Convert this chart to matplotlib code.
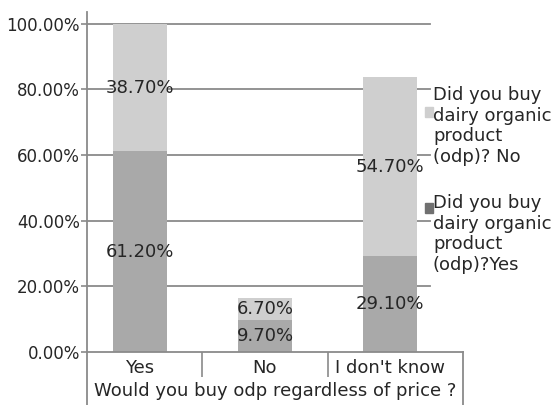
import matplotlib
matplotlib.use("Agg")
import matplotlib.pyplot as plt
from matplotlib.patches import Rectangle
from matplotlib.lines import Line2D

categories = ["Yes", "No", "I don't know"]
series_names = ["Did you buy\ndairy organic\nproduct\n(odp)?Yes",
                "Did you buy\ndairy organic\nproduct\n(odp)? No"]
yes_values = [61.2, 9.7, 29.1]
no_values = [38.7, 6.7, 54.7]
y_ticks = [0, 20, 40, 60, 80, 100]
x_title = "Would you buy odp regardless of price ?"

W, H = 554, 405
dpi = 100
fig = plt.figure(figsize=(W / dpi, H / dpi), dpi=dpi)
fig.patch.set_facecolor("white")

def fx(px):
    return px / W

def fy(py):
    return 1 - py / H

ax_l, ax_r, ax_t, ax_b = 87, 463, 12, 352
ax = fig.add_axes([fx(ax_l), fy(ax_b), fx(ax_r - ax_l), (ax_b - ax_t) / H])

light = "#cfcfcf"
dark = "#a9a9a9"
grid_c = "#8a8a8a"
txt_c = "#262626"
fs = 13

xs = list(range(len(categories)))
width = 0.43
ax.bar(xs, yes_values, width=width, color=dark, zorder=2)
ax.bar(xs, no_values, width=width, bottom=yes_values, color=light, zorder=2)

for x, yv, nv in zip(xs, yes_values, no_values):
    ax.text(x, yv / 2, f"{yv:.2f}%", ha="center", va="center",
            fontsize=fs, color=txt_c, zorder=4)
    ax.text(x, yv + nv / 2, f"{nv:.2f}%", ha="center", va="center",
            fontsize=fs, color=txt_c, zorder=4)

ax.set_xlim(-0.42, 2.58)
ax.set_ylim(0, 103.6)

# gridlines stop before the right end of the x axis
grid_end = (430 - ax_l) / (ax_r - ax_l)
for t in y_ticks[1:]:
    ax.axhline(t, xmin=0, xmax=grid_end, color=grid_c, lw=1.3, zorder=1)

ax.set_yticks(y_ticks)
ax.set_yticklabels([f"{t:.2f}%" for t in y_ticks])
ax.tick_params(axis="y", length=4, width=1.2, color=grid_c, pad=1,
               labelsize=12, labelcolor=txt_c)

ax.set_xticks(xs)
ax.set_xticklabels(categories)
ax.set_xticks([0.5, 1.5], minor=True)
ax.tick_params(axis="x", which="major", length=0, pad=5,
               labelsize=fs, labelcolor=txt_c)
ax.tick_params(axis="x", which="minor", length=18, width=1.2, color=grid_c)

for s in ["top", "right"]:
    ax.spines[s].set_visible(False)
for s in ["left", "bottom"]:
    ax.spines[s].set_color(grid_c)
    ax.spines[s].set_linewidth(1.3)

# frame lines of the category table below the axis
ext = -(H - ax_b) / (ax_b - ax_t)
for xa in (0, 1):
    ax.add_line(Line2D([xa, xa], [0, ext], transform=ax.transAxes,
                       color=grid_c, lw=1.3, clip_on=False))

ax.set_xlabel(x_title, fontsize=fs, color=txt_c, labelpad=0)

# legend drawn as text blocks with square markers
leg_items = [(series_names[1], light, 126, 112),
             (series_names[0], "#707070", 234, 208)]
for label, col, yc, ym in leg_items:
    fig.text(fx(433), fy(yc), label, ha="left", va="center",
             fontsize=fs, color=txt_c, linespacing=1.17)
    fig.patches.append(Rectangle((fx(425), fy(ym + 5)), fx(8), 10 / H,
                                 transform=fig.transFigure, color=col))

fig.savefig("out.png", dpi=dpi, facecolor="white")
